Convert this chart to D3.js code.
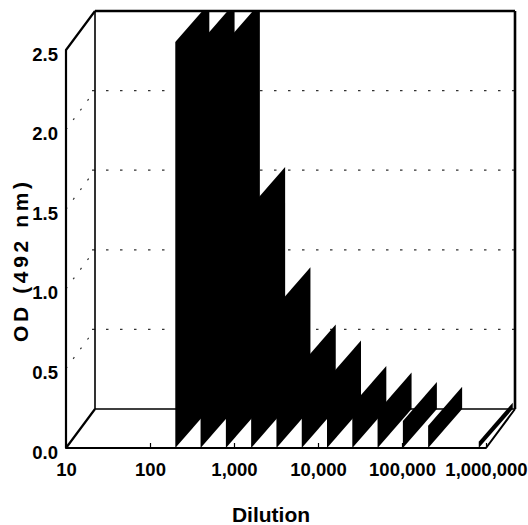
<!DOCTYPE html>
<html>
<head>
<meta charset="utf-8">
<script src="https://cdn.jsdelivr.net/npm/d3@7"></script>
<style>
  body { margin: 0; background: #fff; }
  text { font-family: "Liberation Sans", Arial, sans-serif; font-weight: bold; fill: #000; }
</style>
</head>
<body>
<div id="chart"></div>
<script>
// dilution series (two-fold steps) and OD readings
const dilutions = [200, 400, 800, 1600, 3200, 6400, 12800, 25600, 51200, 102400, 204800, 409600, 819200];
const odValues = [2.55, 2.55, 2.55, 1.52, 0.89, 0.53, 0.43, 0.27, 0.23, 0.17, 0.14, 0, 0.04];

// axis ticks
const xTicks = [10, 100, 1000, 10000, 100000, 1000000];
const yTicks = [0, 0.5, 1.0, 1.5, 2.0, 2.5];
const gridTicks = [0.5, 1.0, 1.5, 2.0];

const WIDTH = 528;
const HEIGHT = 525;

// front plane of the plot box
const FRONT = { LEFT: 66, RIGHT: 486, BOTTOM: 448, TOP: 50 };
// offset from the front plane to the back wall
const DEPTH = { X: 29, Y: -39 };
// offset used for the bar side faces
const BAR_DEPTH = { X: 34, Y: -39 };

const svg = d3.select("#chart")
  .append("svg")
  .attr("width", WIDTH)
  .attr("height", HEIGHT);

const x = d3.scaleLog()
  .domain([10, 1000000])
  .range([FRONT.LEFT, FRONT.RIGHT]);

const y = d3.scaleLinear()
  .domain([0, 2.5])
  .range([FRONT.BOTTOM, FRONT.TOP]);

const line = d3.line();

// clip bars to the inside of the box
svg.append("clipPath")
  .attr("id", "box")
  .append("polygon")
  .attr("points", [
    [FRONT.LEFT, FRONT.TOP],
    [FRONT.LEFT + DEPTH.X, FRONT.TOP + DEPTH.Y],
    [FRONT.RIGHT + DEPTH.X, FRONT.TOP + DEPTH.Y],
    [FRONT.RIGHT + DEPTH.X, FRONT.BOTTOM + DEPTH.Y],
    [FRONT.RIGHT, FRONT.BOTTOM],
    [FRONT.LEFT, FRONT.BOTTOM]
  ].join(" "));

// dotted grid on the back wall
svg.append("g")
  .selectAll("path")
  .data(gridTicks)
  .enter().append("path")
  .attr("d", d => line([
    [FRONT.LEFT + DEPTH.X - 3, y(d) + DEPTH.Y],
    [FRONT.RIGHT + DEPTH.X, y(d) + DEPTH.Y]
  ]))
  .attr("stroke", "#333")
  .attr("stroke-width", 1.2)
  .attr("stroke-dasharray", "2.5,11.5")
  .attr("fill", "none");

// dotted grid on the left wall
svg.append("g")
  .selectAll("path")
  .data(gridTicks)
  .enter().append("path")
  .attr("d", d => line([
    [FRONT.LEFT, y(d)],
    [FRONT.LEFT + DEPTH.X, y(d) + DEPTH.Y]
  ]))
  .attr("stroke", "#333")
  .attr("stroke-width", 1.2)
  .attr("stroke-dasharray", "2,10")
  .attr("fill", "none");

// back wall frame
const back = svg.append("g")
  .attr("stroke", "#000")
  .attr("fill", "none");

back.append("path")
  .attr("d", line([
    [FRONT.LEFT + DEPTH.X, FRONT.TOP + DEPTH.Y],
    [FRONT.LEFT + DEPTH.X, FRONT.BOTTOM + DEPTH.Y],
    [FRONT.RIGHT + DEPTH.X, FRONT.BOTTOM + DEPTH.Y]
  ]))
  .attr("stroke-width", 1.6);

back.append("path")
  .attr("d", line([
    [FRONT.RIGHT + DEPTH.X, FRONT.BOTTOM + DEPTH.Y],
    [FRONT.RIGHT + DEPTH.X, FRONT.TOP + DEPTH.Y]
  ]))
  .attr("stroke-width", 2.6);

// bars: thin slabs running from the front to the back
svg.append("g")
  .attr("clip-path", "url(#box)")
  .selectAll("polygon")
  .data(dilutions.map((d, i) => ({ dilution: d, od: odValues[i] })))
  .enter().append("polygon")
  .attr("points", d => {
    const x0 = x(d.dilution);
    return [
      [x0, y(0)],
      [x0, y(d.od)],
      [x0 + BAR_DEPTH.X, y(d.od) + BAR_DEPTH.Y],
      [x0 + BAR_DEPTH.X, y(0) + BAR_DEPTH.Y]
    ].join(" ");
  })
  .attr("fill", "#000");

// front frame
const front = svg.append("g")
  .attr("stroke", "#000")
  .attr("fill", "none")
  .attr("stroke-linejoin", "round");

front.append("path")
  .attr("d", line([
    [FRONT.LEFT + DEPTH.X, FRONT.TOP + DEPTH.Y],
    [FRONT.RIGHT + DEPTH.X, FRONT.TOP + DEPTH.Y]
  ]))
  .attr("stroke-width", 2.6);

front.append("path")
  .attr("d", line([
    [FRONT.LEFT + DEPTH.X, FRONT.TOP + DEPTH.Y],
    [FRONT.LEFT, FRONT.TOP],
    [FRONT.LEFT, FRONT.BOTTOM],
    [FRONT.LEFT + DEPTH.X, FRONT.BOTTOM + DEPTH.Y]
  ]))
  .attr("stroke-width", 2.2);

front.append("path")
  .attr("d", line([
    [FRONT.LEFT, FRONT.BOTTOM],
    [FRONT.RIGHT, FRONT.BOTTOM],
    [FRONT.RIGHT + DEPTH.X, FRONT.BOTTOM + DEPTH.Y]
  ]))
  .attr("stroke-width", 2);

// x axis along the front floor edge
const xAxisCall = d3.axisBottom(x)
  .tickValues(xTicks)
  .tickFormat(d3.format(","))
  .tickSize(-5)
  .tickPadding(15);

const xAxisGroup = svg.append("g")
  .attr("transform", `translate(0, ${FRONT.BOTTOM})`)
  .call(xAxisCall);

xAxisGroup.select(".domain").remove();
xAxisGroup.selectAll("line").attr("stroke", "#000").attr("stroke-width", 1.2);
xAxisGroup.selectAll("text")
  .attr("font-size", 18.5)
  .attr("font-family", null)
  .attr("dy", "0.7em");

// y axis along the front left edge
const yAxisCall = d3.axisLeft(y)
  .tickValues(yTicks)
  .tickFormat(d3.format(".1f"))
  .tickSize(0)
  .tickPadding(8);

const yAxisGroup = svg.append("g")
  .attr("transform", `translate(${FRONT.LEFT}, 0)`)
  .call(yAxisCall);

yAxisGroup.select(".domain").remove();
yAxisGroup.selectAll("text")
  .attr("font-size", 18.5)
  .attr("font-family", null)
  .attr("dy", "0.55em");

// axis titles
svg.append("text")
  .attr("x", 271)
  .attr("y", 522)
  .attr("text-anchor", "middle")
  .attr("font-size", 21)
  .text("Dilution");

svg.append("text")
  .attr("transform", "translate(28, 262) rotate(-90)")
  .attr("text-anchor", "middle")
  .attr("font-size", 21)
  .attr("textLength", 160)
  .attr("lengthAdjust", "spacing")
  .text("OD (492 nm)");
</script>
</body>
</html>
